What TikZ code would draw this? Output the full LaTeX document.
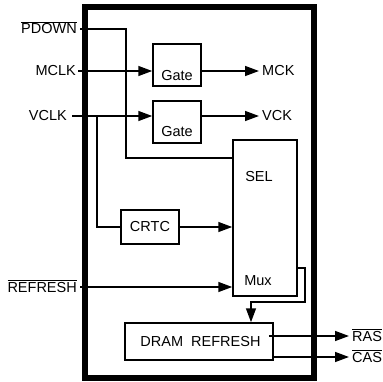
\documentclass[tikz,border=0pt]{standalone}
\usepackage{fontspec}
\setmainfont{Liberation Sans}
\usetikzlibrary{arrows.meta}
\begin{document}
\begin{tikzpicture}[x=1pt,y=-1pt,
  every node/.style={font=\fontsize{14.5}{16}\selectfont},
  lbl/.style={inner sep=2pt,text height=10pt,text depth=0pt},
  blk/.style={draw,line width=1.5pt,inner sep=0pt},
  wire/.style={line width=1.5pt},
  arr/.style={wire,-{Triangle[length=14pt,width=10pt]}},
  txt/.style={inner sep=0pt,anchor=base}]
\useasboundingbox (0,0) rectangle (383,382);
% outer chip outline
\node[draw,line width=5.5pt,minimum width=229pt,minimum height=371pt,inner sep=0pt] (chip) at (199.5,192.5) {};
% blocks
\node[blk,minimum width=48pt,minimum height=42pt] (g1) at (177,65) {};
\node[txt] (g1t) at (177,81) {Gate};
\node[blk,minimum width=48pt,minimum height=42pt] (g2) at (177,122) {};
\node[txt] (g2t) at (177,137) {Gate};
\node[blk,minimum width=64pt,minimum height=156pt] (sel) at (265,218) {};
\node[txt] (selt) at (259,182) {SEL};
\node[txt] (muxt) at (258,285) {Mux};
\node[blk,minimum width=58pt,minimum height=34pt] (crtc) at (150,227) {CRTC};
\node[blk,minimum width=148pt,minimum height=37pt] (dram) at (199,341.5) {\hspace*{3pt}DRAM\ \ REFRESH};
% inputs
\node[lbl,anchor=east,inner xsep=3pt] (pdown) at (80,29) {$\overline{\mbox{PDOWN}}$};
\node[lbl,anchor=east] (mclk) at (78,71) {MCLK};
\node[lbl,anchor=east] (vclk) at (69,116) {VCLK};
\node[lbl,anchor=east,inner xsep=3pt] (refresh) at (80,287) {$\overline{\mbox{REFRESH}}$};
% outputs
\node[lbl,anchor=west,inner xsep=3pt] (mck) at (259,71) {MCK};
\node[lbl,anchor=west,inner xsep=3pt] (vck) at (259,116) {VCK};
\node[lbl,anchor=west,inner xsep=3pt] (ras) at (349,336) {$\overline{\mbox{RAS}}$};
\node[lbl,anchor=west,inner xsep=3pt] (cas) at (349,357) {$\overline{\mbox{CAS}}$};
% connectors
\coordinate (pdturn) at (126,158);
\draw[wire] (pdown.east) -| (pdturn) -- (sel.west |- pdturn);
\draw[arr] (mclk.east) -- (g1.west |- mclk.east);
\draw[arr] (g1.east |- mck.west) -- (mck.west);
\draw[arr] ([xshift=3pt]vclk.east) -- (g2.west |- vclk.east);
\draw[arr] (g2.east |- vck.west) -- (vck.west);
\coordinate (vb) at (97,116);
\draw[wire] (vb) |- (crtc.west);
\draw[arr] (crtc.east) -- (sel.west |- crtc.east);
\draw[arr] (refresh.east) -- (sel.west |- refresh.east);
\coordinate (muxo) at (0,268);
\coordinate (c1) at (305,302);
\coordinate (c2) at (251,302);
\draw[arr] (sel.east |- muxo) -| (c1) -- (c2) -- (c2 |- dram.north);
\draw[arr] ([xshift=-5pt]dram.east |- ras.west) -- (ras.west);
\draw[arr] (dram.east |- cas.west) -- (cas.west);
\end{tikzpicture}
\end{document}
